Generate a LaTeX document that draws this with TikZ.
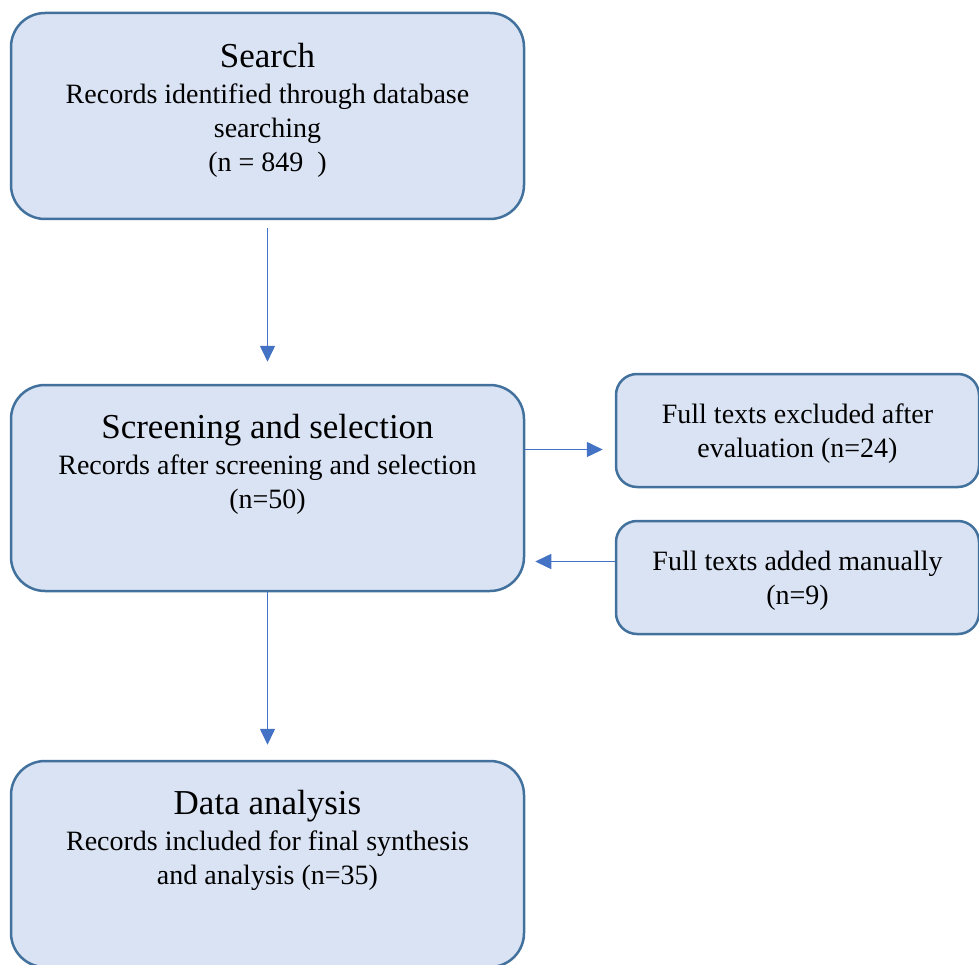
\documentclass[tikz,border=0pt]{standalone}
\usepackage{fontspec}
\setmainfont{Liberation Serif}
\usetikzlibrary{arrows.meta}
\definecolor{boxfill}{HTML}{DAE3F3}
\definecolor{boxline}{HTML}{41719C}
\definecolor{arrowblue}{HTML}{4472C4}
\begin{document}
\begin{tikzpicture}[x=1pt, y=-1pt, line width=2.5pt,
  main box/.style={rectangle,rounded corners=34pt,draw=boxline,fill=boxfill,minimum width=513pt,minimum height=206pt,inner sep=0pt},
  side box/.style={rectangle,rounded corners=21pt,draw=boxline,fill=boxfill,minimum width=363pt,minimum height=113pt,inner sep=0pt},
  box text/.style={align=center,font=\fontsize{28}{34}\selectfont},
  arrow line/.style={draw=arrowblue,line width=1.5pt,-{Triangle[length=16pt,width=15pt]}}]
\useasboundingbox (0,0) rectangle (979,965);
\clip (0,0) rectangle (979,965);
\begin{scope}
\node[main box] (search) at (267.5,116) {};
\node[main box] (screen) at (267.5,488) {};
\node[main box] (data) at (267.5,864) {};
\node[side box] (excl) at (797.5,430.5) {};
\node[side box] (added) at (797.5,577.5) {};
%\node[main box] () at (,) {};
\end{scope}
\begin{scope}[every node/.style={box text}]
\node (search text) at (267.5,110) {{\fontsize{35}{35}\selectfont Search}\\[2pt] Records identified through database\\ searching\\ (n = 849\ \ )};
\node (screen text) at (267.5,464) {{\fontsize{35}{35}\selectfont Screening and selection}\\[2pt] Records after screening and selection\\ (n=50)};
\node (data text) at (267.5,840) {{\fontsize{35}{35}\selectfont Data analysis}\\[2pt] Records included for final synthesis\\ and analysis (n=35)};
\node (excl text) at (797.5,434) {Full texts excluded after\\ evaluation (n=24)};
\node (added text) at (797.5,580.5) {Full texts added manually\\ (n=9)};
\end{scope}
\begin{scope}[arrow line]
\draw[shorten <=8pt, shorten >=22pt] (search) -- (screen);
\draw[shorten >=15pt] (screen) -- (data);
\draw[shorten >=12pt] ([yshift=-19pt]excl.west -| screen.east) -- ([yshift=-19pt]excl.west);
\draw[shorten >=10pt] ([yshift=16pt]added.west) -- ([yshift=16pt]added.west -| screen.east);
%\draw (v) -- (v);
\end{scope}
\end{tikzpicture}
\end{document}
